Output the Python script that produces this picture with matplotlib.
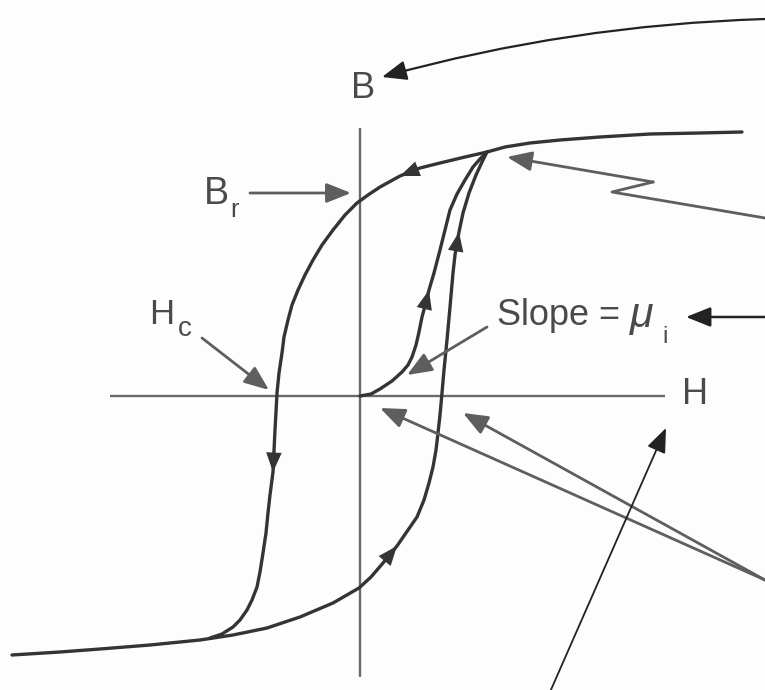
import matplotlib.pyplot as plt

plt.rcParams['font.family'] = ['Liberation Sans', 'DejaVu Sans']

# descending branch of the loop (positive saturation -> negative)
H_down = [3.82, 3.40, 2.90, 2.40, 2.00, 1.70, 1.45, 1.27, 1.05, 0.80, 0.60,
          0.40, 0.20, 0.08, -0.03, -0.15, -0.27, -0.38, -0.47, -0.55, -0.62,
          -0.68, -0.72, -0.76, -0.78, -0.81, -0.83, -0.84, -0.85, -0.87,
          -0.90, -0.92, -0.94, -0.97, -1.00, -1.03, -1.08, -1.13, -1.20,
          -1.27, -1.38, -1.50]
B_down = [2.64, 2.63, 2.62, 2.59, 2.56, 2.53, 2.49, 2.44, 2.39, 2.33, 2.28,
          2.20, 2.09, 2.01, 1.93, 1.81, 1.66, 1.51, 1.36, 1.21, 1.06,
          0.91, 0.76, 0.59, 0.43, 0.23, 0.03, -0.16, -0.34, -0.76,
          -0.99, -1.17, -1.37, -1.57, -1.76, -1.91, -2.04, -2.14, -2.24,
          -2.31, -2.38, -2.42]

# ascending branch (negative saturation -> loop tip)
H_up = [-3.48, -3.00, -2.60, -2.10, -1.60, -1.27, -0.93, -0.60, -0.27, -0.01,
        0.11, 0.23, 0.37, 0.48, 0.57, 0.64, 0.69, 0.73, 0.76, 0.78, 0.80,
        0.82, 0.84, 0.87, 0.90, 0.93, 0.95, 0.99, 1.03, 1.09, 1.16, 1.22,
        1.27]
B_up = [-2.59, -2.56, -2.53, -2.49, -2.44, -2.39, -2.32, -2.21, -2.07, -1.92,
        -1.81, -1.67, -1.50, -1.34, -1.21, -1.04, -0.87, -0.71, -0.54, -0.37,
        -0.19, 0.03, 0.26, 0.56, 0.89, 1.23, 1.41, 1.64, 1.83, 2.03, 2.21,
        2.34, 2.44]

# initial magnetization curve from the demagnetized state
H_init = [0.00, 0.11, 0.20, 0.32, 0.42, 0.48, 0.52, 0.56, 0.59, 0.62, 0.65,
          0.69, 0.74, 0.80, 0.85, 0.90, 0.97, 1.05, 1.13, 1.20, 1.27]
B_init = [0.00, 0.02, 0.07, 0.15, 0.24, 0.31, 0.39, 0.51, 0.64, 0.79, 0.90,
          1.06, 1.23, 1.46, 1.66, 1.86, 2.02, 2.16, 2.29, 2.37, 2.44]

# (branch, index) of the segments that carry a direction arrow
flow_marks = [('down', 10), ('down', 28), ('up', 11), ('up', 26), ('init', 10)]

fig = plt.figure(figsize=(7.65, 6.9), dpi=100)
fig.patch.set_facecolor('#fdfdfd')
ax = fig.add_axes([0, 0, 1, 1])
ax.set_xlim(-3.60, 4.05)
ax.set_ylim(-2.94, 3.96)
ax.axis('off')

curve = '#343434'
grey = '#5e5e5e'
txt = '#4a4a4a'

# H and B axes
ax.plot([-2.50, 3.05], [0, 0], color='#6a6a6a', lw=1.7, solid_capstyle='butt')
ax.plot([0, 0], [-2.81, 2.68], color='#6a6a6a', lw=1.7, solid_capstyle='butt')

for h, b in [(H_down, B_down), (H_up, B_up), (H_init, B_init)]:
    ax.plot(h, b, color=curve, lw=2.4, solid_capstyle='round',
            solid_joinstyle='round')

branches = {'down': (H_down, B_down), 'up': (H_up, B_up), 'init': (H_init, B_init)}
for name, k in flow_marks:
    h, b = branches[name]
    ax.annotate('', xy=(h[k + 1], b[k + 1]), xytext=(h[k], b[k]),
                arrowprops=dict(arrowstyle='-|>,head_length=0.7,head_width=0.28',
                                color=curve, lw=0, shrinkA=0, shrinkB=0,
                                mutation_scale=20))

def pointer(tail, tip, color=grey, lw=2.0, rad=0.0):
    ax.annotate('', xy=tip, xytext=tail,
                arrowprops=dict(arrowstyle='-|>,head_length=0.75,head_width=0.3',
                                color=color, lw=lw, shrinkA=0, shrinkB=0,
                                mutation_scale=20,
                                connectionstyle=f'arc3,rad={rad}'))

# labels
ax.text(0.03, 3.08, 'B', fontsize=26, color=txt, ha='center', va='center')
ax.text(3.35, 0.01, 'H', fontsize=26, color=txt, ha='center', va='center')
ax.text(-1.44, 2.02, 'B', fontsize=27, color=txt, ha='center', va='center')
ax.text(-1.26, 1.86, 'r', fontsize=18, color=txt, ha='center', va='center')
ax.text(-1.98, 0.82, 'H', fontsize=25, color=txt, ha='center', va='center')
ax.text(-1.75, 0.67, 'c', fontsize=20, color=txt, ha='center', va='center')
ax.text(1.37, 0.71, 'Slope =', fontsize=26, color=txt, ha='left', va='baseline')
ax.text(2.70, 0.69, 'μ', fontsize=31, color=txt, ha='left', va='baseline',
        style='italic')
ax.text(3.02, 0.53, 'i', fontsize=17, color=txt, ha='left', va='baseline')

# annotation arrows
pointer((-1.10, 2.03), (-0.09, 2.03))
pointer((-1.58, 0.58), (-0.91, 0.06))
pointer((1.27, 0.69), (0.47, 0.21))
pointer((4.05, 0.79), (3.26, 0.79), color='#222222', lw=1.8)
pointer((4.05, 3.77), (0.22, 3.19), color='#222222', lw=1.6, rad=0.06)
ax.plot([4.05, 2.52, 2.93], [1.78, 2.04, 2.14], color=grey, lw=2.0)
pointer((2.93, 2.14), (1.47, 2.39))
pointer((4.05, -1.84), (0.20, -0.12))
pointer((4.05, -1.84), (1.03, -0.17))
pointer((1.90, -2.96), (3.06, -0.32), color='#222222', lw=1.3)

fig.savefig('out.png', dpi=100, facecolor=fig.get_facecolor())
